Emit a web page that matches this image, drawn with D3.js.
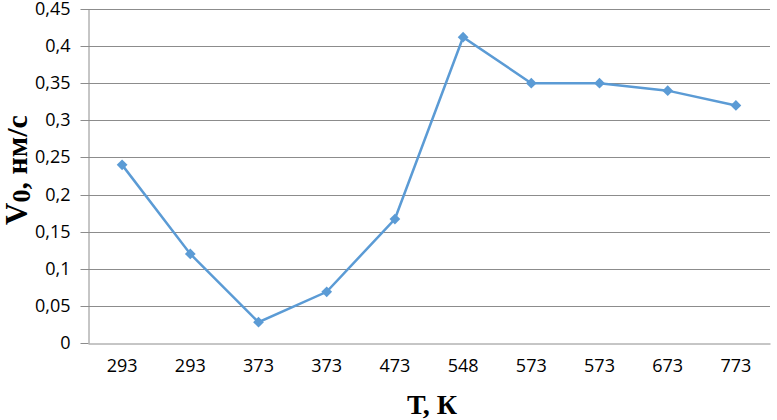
<!DOCTYPE html>
<meta charset="utf-8">
<style>
body { margin: 0; background: #fff; }
.grid line { stroke: #8c8c8c; stroke-width: 1px; }
.axis text { font-family: "Open Sans", sans-serif; font-size: 18px; fill: #000; }
.axis path, .axis line { stroke: #8c8c8c; }
.line { fill: none; stroke: #5b9bd5; stroke-width: 2.5px; }
.title { font-family: "Liberation Serif", "Times New Roman", serif; font-weight: bold; fill: #000; }
</style>
<body>
<script src="https://d3js.org/d3.v7.min.js"></script>
<script>

// data
var categories = ["293", "293", "373", "373", "473", "548", "573", "573", "673", "773"];
var values = [0.24, 0.12, 0.028, 0.069, 0.167, 0.412, 0.35, 0.35, 0.34, 0.32];
var yTicks = [0, 0.05, 0.1, 0.15, 0.2, 0.25, 0.3, 0.35, 0.4, 0.45];

var margin = {top: 9, right: 7, bottom: 77, left: 88},
    width = 777 - margin.left - margin.right,
    height = 420 - margin.top - margin.bottom;

var svg = d3.select("body").append("svg")
    .attr("width", 777)
    .attr("height", 420);

var g = svg.append("g")
    .attr("transform", "translate(" + margin.left + "," + margin.top + ")");

var x = d3.scaleBand().domain(d3.range(categories.length)).range([0, width]);
var y = d3.scaleLinear().domain([0, 0.45]).range([height, 0]);

var fmt = function(d) { return String(+d.toFixed(2)).replace(".", ","); };

// gridlines
g.append("g").attr("class", "grid")
  .selectAll("line").data(yTicks.slice(1)).enter().append("line")
    .attr("x1", 0).attr("x2", width)
    .attr("y1", function(d) { return Math.round(y(d)) + 0.5; })
    .attr("y2", function(d) { return Math.round(y(d)) + 0.5; });

// y axis
g.append("g").attr("class", "axis")
    .attr("transform", "translate(0.5,0)")
    .call(d3.axisLeft(y).tickValues(yTicks).tickFormat(fmt).tickSize(8).tickPadding(10).tickSizeOuter(0))
  .call(function(a) { a.selectAll(".tick").attr("transform", function(d) { return "translate(0," + (Math.round(y(d)) + 0.5) + ")"; }); });

// x axis
g.append("g").attr("class", "axis")
    .attr("transform", "translate(0," + (Math.round(height) + 0.5) + ")")
    .call(d3.axisBottom(x).tickFormat(function(i) { return categories[i]; }).tickSize(0).tickPadding(16).tickSizeOuter(0));

// line
var line = d3.line()
    .x(function(d, i) { return x(i) + x.bandwidth() / 2; })
    .y(function(d) { return y(d); });

g.append("path").datum(values).attr("class", "line").attr("d", line);

g.selectAll(".dot").data(values).enter().append("rect")
    .attr("x", -3.8).attr("y", -3.8).attr("width", 7.6).attr("height", 7.6)
    .attr("fill", "#5b9bd5")
    .attr("transform", function(d, i) { return "translate(" + (x(i) + x.bandwidth() / 2) + "," + y(d) + ") rotate(45)"; });

// axis titles
svg.append("text").attr("class", "title")
    .attr("x", 432).attr("y", 414)
    .attr("text-anchor", "middle")
    .style("font-size", "28px")
    .text("Т, К");

var yt = svg.append("text").attr("class", "title")
    .attr("transform", "translate(27,170) rotate(-90)")
    .attr("text-anchor", "middle");
yt.append("tspan").style("font-size", "31px").text("V");
yt.append("tspan").style("font-size", "26px").attr("dy", 3).text("0");
yt.append("tspan").style("font-size", "30px").attr("dy", -3).text(", нм/с");

</script>
</body>
